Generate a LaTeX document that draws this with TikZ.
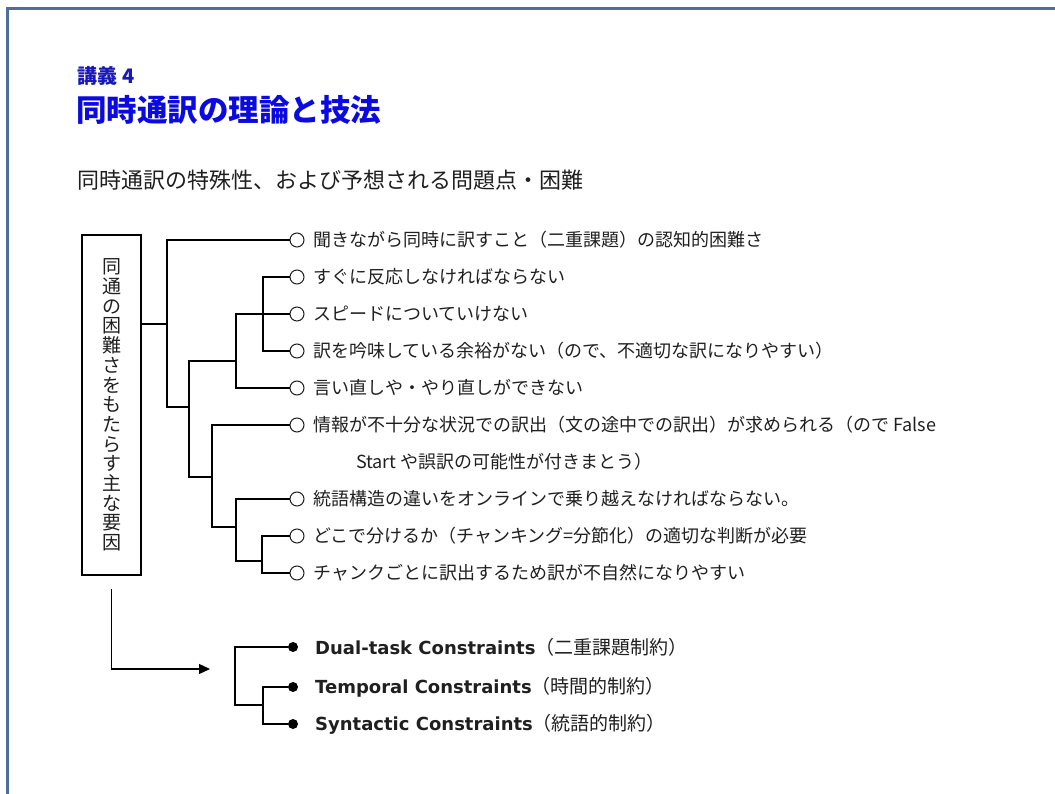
\documentclass[tikz,border=0pt]{standalone}
\usepackage{fontspec}
\setmainfont{Noto Sans CJK JP}
\newfontfamily\latinbold{DejaVu Sans}
\usetikzlibrary{arrows.meta}
\definecolor{framecol}{RGB}{79,110,155}
\definecolor{headcol}{RGB}{25,25,185}
\definecolor{titlecol}{RGB}{10,10,225}
\definecolor{inkcol}{gray}{0.12}
\tikzset{
  item/.style={anchor=west,inner sep=0pt,font=\fontsize{18}{22}\selectfont,text=inkcol},
  keyw/.style={anchor=west,inner sep=0pt,font=\fontsize{19}{22}\selectfont,text=inkcol},
  ring/.style={draw=inkcol,circle,fill=white,inner sep=0pt,minimum size=14pt,line width=1pt},
  dot/.style={fill=black,circle,inner sep=0pt,minimum size=10pt},
  link/.style={draw=black,line width=1.3pt},
}

\begin{document}
\begin{tikzpicture}[x=1pt,y=-1pt]
  \useasboundingbox (0,0) rectangle (1055,794);
  \draw[framecol,line width=3pt] (7,794) -- (7,9) -- (1055,9);
  % headings
  \node[anchor=west,inner sep=0pt,font=\fontsize{20}{22}\selectfont\bfseries,text=headcol] (lect) at (77,76) {講義\hspace{5pt}4};
  \node[anchor=west,inner sep=0pt,font=\fontsize{30.5}{34}\selectfont\bfseries,text=titlecol] (title) at (76,110) {同時通訳の理論と技法};
  \node[anchor=west,inner sep=0pt,font=\fontsize{22}{26}\selectfont,text=inkcol] (sub) at (77,180) {同時通訳の特殊性、および予想される問題点・困難};
  % vertical box
  \node[draw,line width=1.3pt,minimum width=59pt,minimum height=340pt,inner sep=0pt,align=center,
        font=\fontsize{19}{19.7}\selectfont,text=inkcol] (cause) at (111.5,405)
    {同\\通\\の\\困\\難\\さ\\を\\も\\た\\ら\\す\\主\\な\\要\\因};
  % items
  \node[ring] (r1) at (297,240) {};
  \node[ring] (r2) at (297,277) {};
  \node[ring] (r3) at (297,314) {};
  \node[ring] (r4) at (297,351) {};
  \node[ring] (r5) at (297,388) {};
  \node[ring] (r6) at (297,425) {};
  \node[ring] (r7) at (297,499) {};
  \node[ring] (r8) at (297,536) {};
  \node[ring] (r9) at (297,573) {};
  \node[item] (t1) at (313,240) {聞きながら同時に訳すこと（二重課題）の認知的困難さ};
  \node[item] (t2) at (313,277) {すぐに反応しなければならない};
  \node[item] (t3) at (313,314) {スピードについていけない};
  \node[item] (t4) at (313,351) {訳を吟味している余裕がない（ので、不適切な訳になりやすい）};
  \node[item] (t5) at (313,388) {言い直しや・やり直しができない};
  \node[item] (t6) at (313,425) {情報が不十分な状況での訳出（文の途中での訳出）が求められる（ので False};
  \node[item] (t6b) at (356,462) {Start や誤訳の可能性が付きまとう）};
  \node[item] (t7) at (313,499) {統語構造の違いをオンラインで乗り越えなければならない。};
  \node[item] (t8) at (313,536) {どこで分けるか（チャンキング=分節化）の適切な判断が必要};
  \node[item] (t9) at (313,573) {チャンクごとに訳出するため訳が不自然になりやすい};
  % joints of the tree
  \coordinate (jA) at (263,314);
  \coordinate (jB) at (236,361);
  \coordinate (jC) at (189,407);
  \coordinate (jD) at (167,324);
  \coordinate (jE) at (212,477);
  \coordinate (jF) at (236,527);
  \coordinate (jG) at (262,561);
  \draw[link] (cause.east |- jD) -- (jD);
  \draw[link] (r1.west) -| (jD) |- (jC);
  \draw[link] (jB) -| (jC) |- (jE);
  \draw[link] (r3.west) -| (jB) |- (r5.west);
  \draw[link] (r2.west) -| (jA) |- (r4.west);
  \draw[link] (r6.west) -| (jE) |- (jF);
  \draw[link] (r7.west) -| (jF) |- (jG);
  \draw[link] (r8.west) -| (jG) |- (r9.west);
  % constraints
  \node[dot] (d1) at (293,647) {};
  \node[dot] (d2) at (293,687) {};
  \node[dot] (d3) at (293,724) {};
  \node[keyw] (k1) at (315,647) {{\latinbold\bfseries\fontsize{18}{20}\selectfont Dual-task Constraints}（二重課題制約）};
  \node[keyw] (k2) at (315,687) {{\latinbold\bfseries\fontsize{18}{20}\selectfont Temporal Constraints}（時間的制約）};
  \node[keyw] (k3) at (315,724) {{\latinbold\bfseries\fontsize{18}{20}\selectfont Syntactic Constraints}（統語的制約）};
  \coordinate (aend) at (210,669);
  \coordinate (jH) at (263,705);
  \coordinate (jI) at (235,676);
  \draw[link,-{Triangle[length=11pt,width=10pt]}] ([yshift=-13pt]cause.south) |- (aend);
  \draw[link] (d1.west) -| (jI) |- (jH);
  \draw[link] (d2.west) -| (jH) |- (d3.west);
\end{tikzpicture}
\end{document}
